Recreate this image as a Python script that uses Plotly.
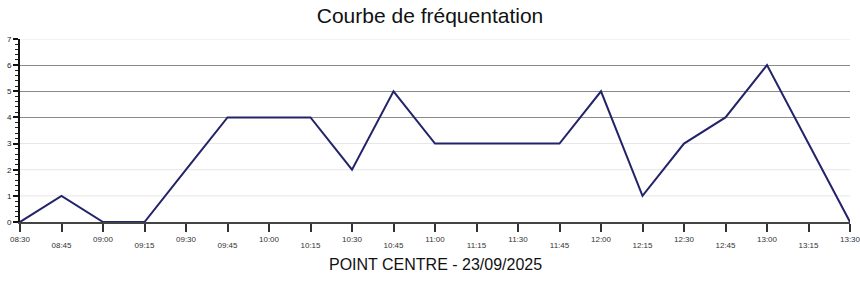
import plotly.graph_objects as go

times = ["08:30", "08:45", "09:00", "09:15", "09:30", "09:45", "10:00", "10:15",
         "10:30", "10:45", "11:00", "11:15", "11:30", "11:45", "12:00", "12:15",
         "12:30", "12:45", "13:00", "13:15", "13:30"]
visits = [0, 1, 0, 0, 2, 4, 4, 4, 2, 5, 3, 3, 3, 3, 5, 1, 3, 4, 6, 3, 0]
title = "Courbe de fréquentation"
subtitle = "POINT CENTRE - 23/09/2025"
dark_grid = [4, 5, 6]
light_grid = [1, 2, 3, 7]

xs = ["2025-09-23 " + t for t in times]
odd_vals = xs[1::2]
odd_text = times[1::2]

fig = go.Figure()
fig.add_trace(go.Scatter(x=xs, y=visits, mode="lines",
                         line=dict(color="#232369", width=2), hoverinfo="skip"))
fig.add_trace(go.Scatter(x=[xs[0]], y=[0], xaxis="x2", yaxis="y2",
                         mode="markers", marker=dict(opacity=0), hoverinfo="skip"))

font_fam = "Liberation Sans, Arial, sans-serif"
xrange = [xs[0], xs[-1]]

fig.update_layout(
    width=860, height=284,
    margin=dict(l=20, r=10, t=39, b=62),
    paper_bgcolor="white", plot_bgcolor="rgba(0,0,0,0)",
    showlegend=False,
    font=dict(family=font_fam, color="#222"),
    title=dict(text=title, x=0.5, xanchor="center", y=1 - 16 / 284, yanchor="middle",
               font=dict(size=21, color="#111", family=font_fam)),
    xaxis=dict(type="date", range=xrange, tickvals=xs,
               ticktext=[t if i % 2 == 0 else "" for i, t in enumerate(times)],
               ticks="outside", ticklen=8, tickwidth=2, tickcolor="#333",
               showline=True, linecolor="#444", linewidth=2, automargin=False,
               showgrid=False, zeroline=False, ticklabeloverflow="allow",
               tickfont=dict(size=8, color="#333")),
    yaxis=dict(range=[0, 7], tickvals=dark_grid, automargin=False,
               ticks="", showline=False, showgrid=True, gridcolor="#8a8a8a", gridwidth=1,
               zeroline=False, showticklabels=False),
    xaxis2=dict(type="date", range=xrange, overlaying="x", side="bottom", anchor="y2",
                tickvals=odd_vals, ticktext=odd_text, automargin=False,
                ticks="outside", ticklen=15, tickcolor="rgba(0,0,0,0)",
                showline=False, showgrid=False, zeroline=False,
                ticklabeloverflow="allow",
                tickfont=dict(size=8, color="#333")),
    yaxis2=dict(range=[0, 7], overlaying="y", anchor="x2", tickvals=list(range(8)),
                ticktext=[str(v) for v in range(8)], automargin=False,
                ticks="outside", ticklen=5, tickwidth=2, tickcolor="#111",
                minor=dict(dtick=0.2, ticks="outside", ticklen=3, tickwidth=1,
                           tickcolor="#222", showgrid=False),
                showline=True, linecolor="#111", linewidth=2,
                showgrid=False, zeroline=False,
                tickfont=dict(size=8, color="#222")),
    shapes=[dict(type="line", xref="paper", yref="y", x0=0, x1=1, y0=v, y1=v,
                 line=dict(color="#e6e6e6", width=1), layer="below") for v in light_grid],
    annotations=[dict(text=subtitle, xref="paper", yref="paper", x=(435 - 20) / 830,
                      y=-(264.5 - 222) / 183, xanchor="center", yanchor="middle",
                      showarrow=False, font=dict(size=16, color="#111", family=font_fam))],
)

fig.write_html("out.html")
